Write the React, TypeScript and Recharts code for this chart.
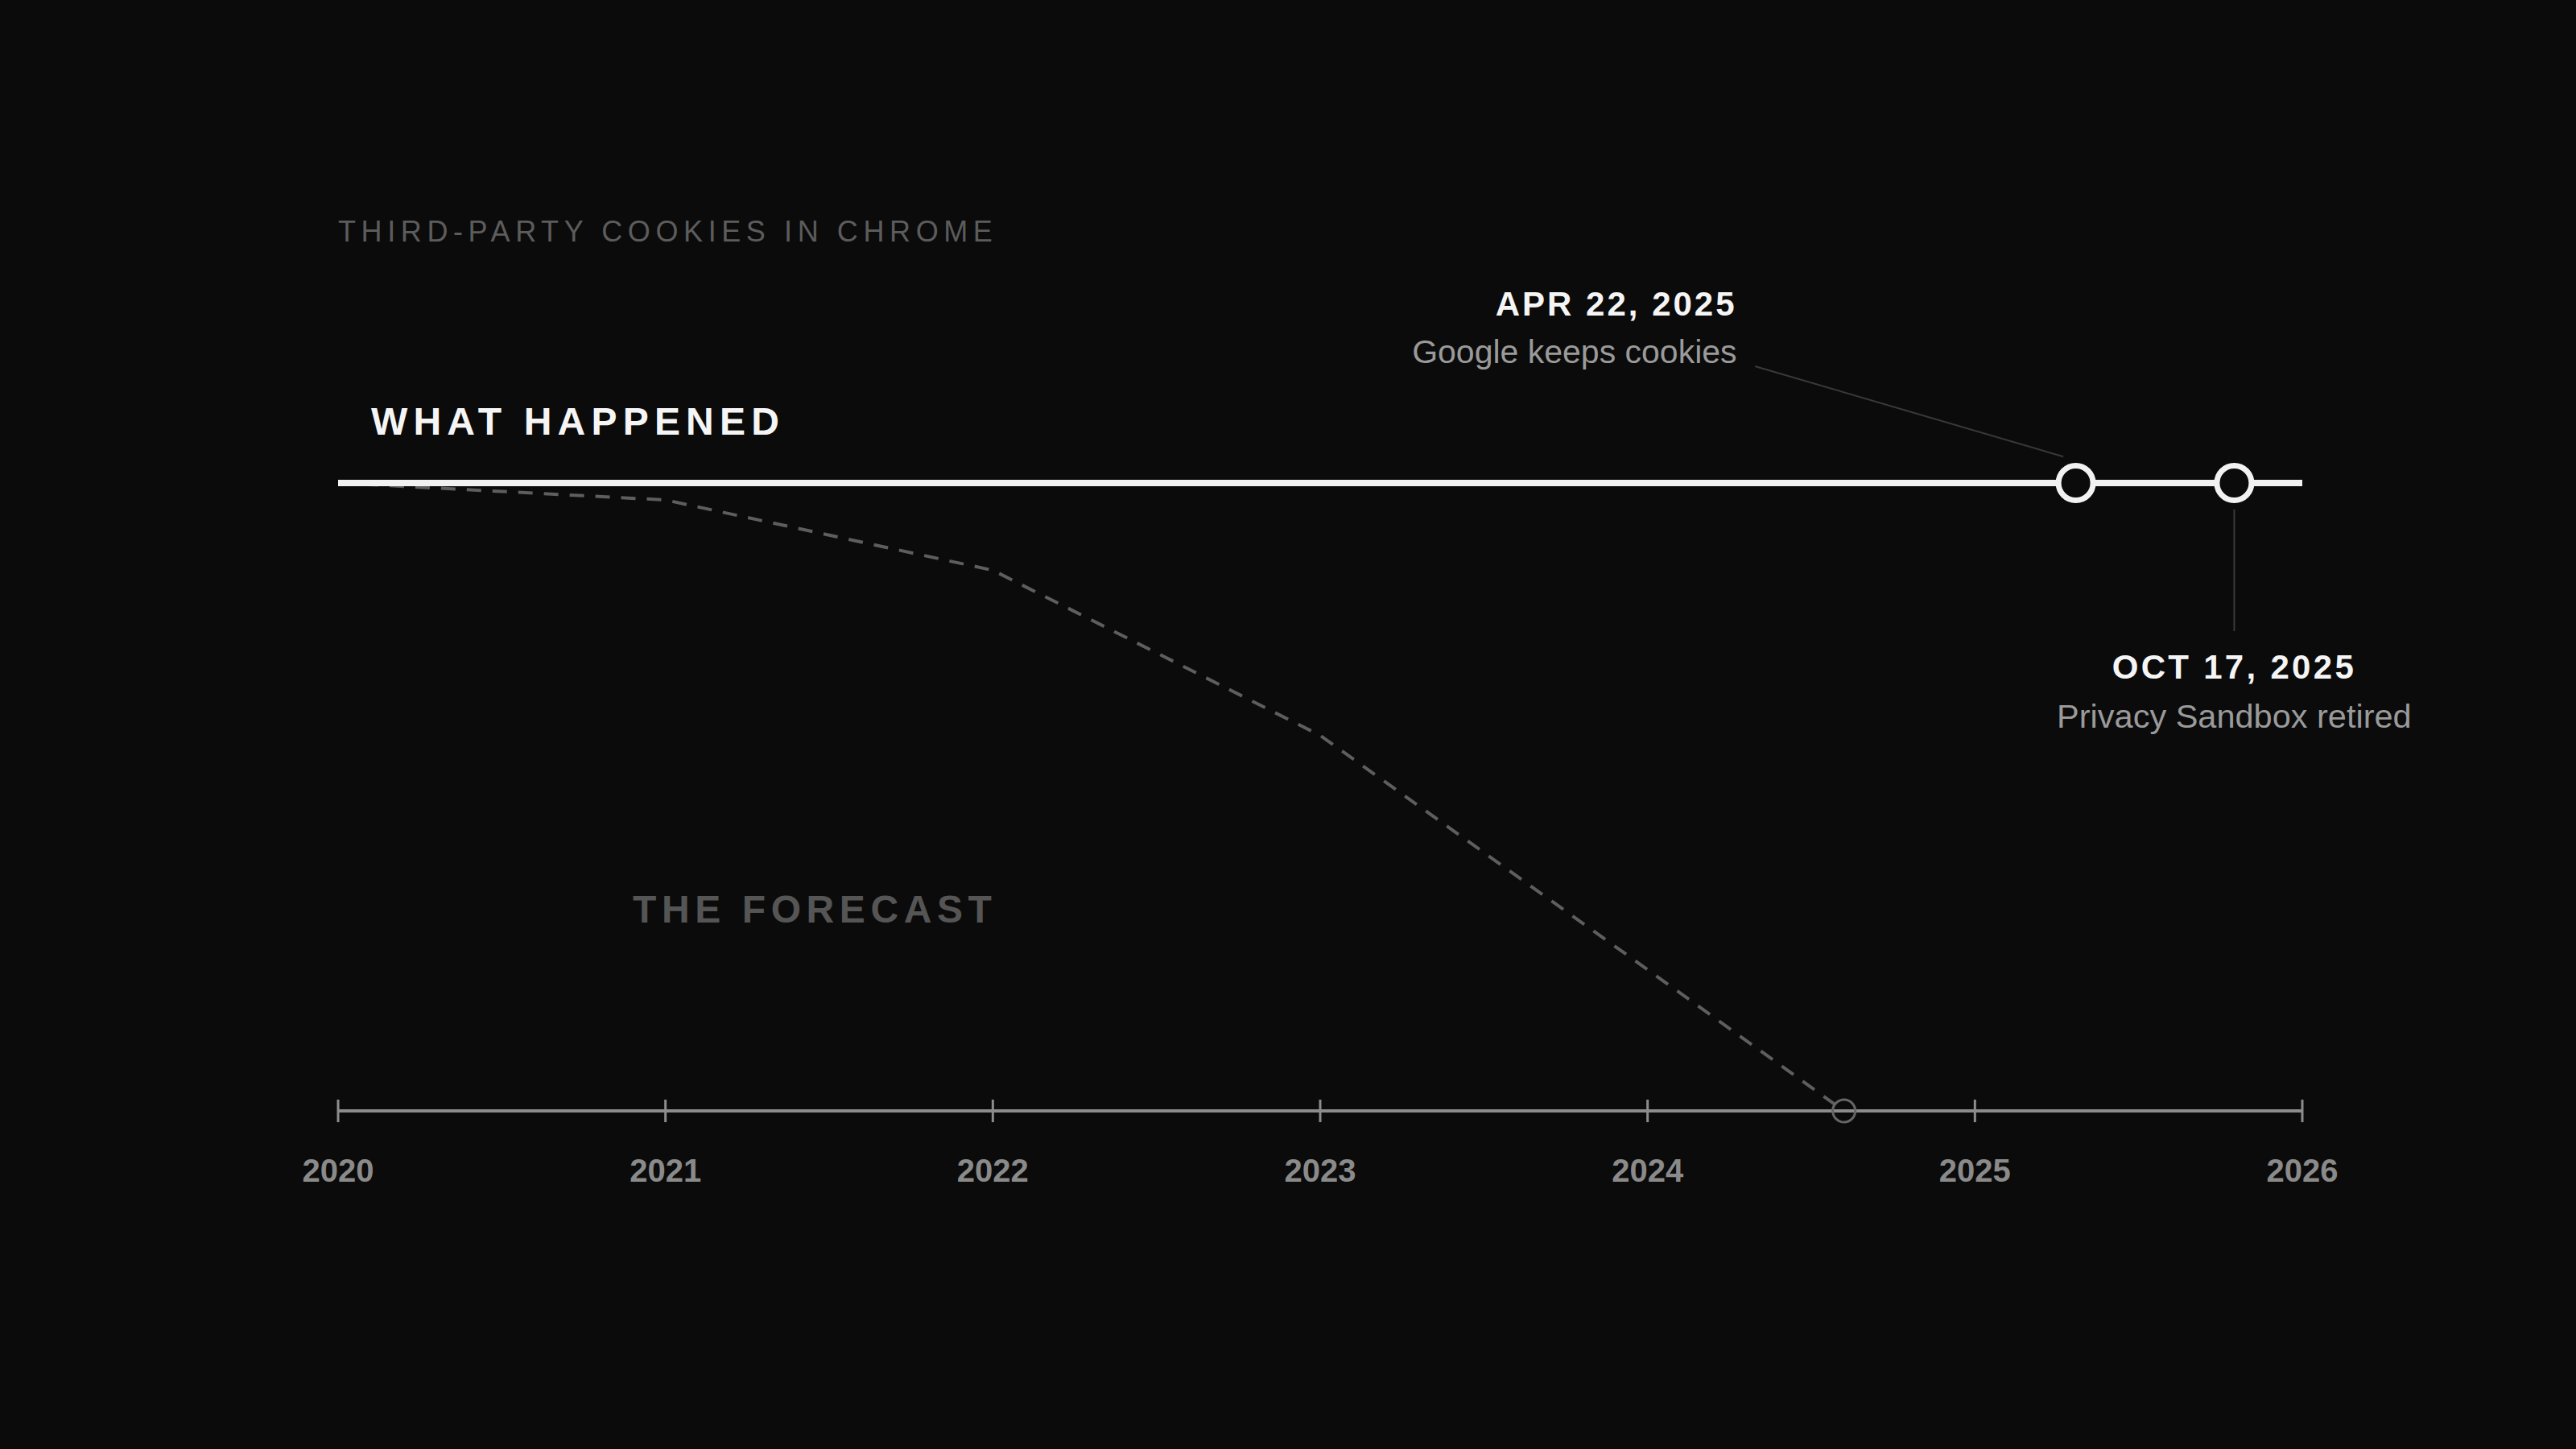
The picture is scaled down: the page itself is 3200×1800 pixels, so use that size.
import React from 'react';
import { ComposedChart, Line, Scatter, XAxis, YAxis, ReferenceLine, ReferenceDot } from 'recharts';

// share of Chrome users still on third-party cookies (100 = all of them)
const years = [2020, 2021, 2022, 2023, 2024, 2025, 2026];

const actual = [
  { year: 2020, share: 100 },
  { year: 2026, share: 100 },
];

const forecast = [
  { year: 2020, share: 100 },
  { year: 2021, share: 97.3 },
  { year: 2022, share: 86.1 },
  { year: 2023, share: 59.8 },
  { year: 2024, share: 22.5 },
  { year: 2024.6, share: 0 },
];

const forecastEnd = [{ year: 2024.6, share: 0 }];

const events = [
  { year: 2025.308, share: 100, date: 'APR 22, 2025', note: 'Google keeps cookies' },
  { year: 2025.792, share: 100, date: 'OCT 17, 2025', note: 'Privacy Sandbox retired' },
];

const BG = '#0b0b0b';
const FONT = '"Liberation Sans", Arial, sans-serif';

const YearTick = (props: any) => {
  const { x, y, payload } = props;
  return (
    <g>
      <line x1={x} x2={x} y1={y - 14} y2={y + 14} stroke="#8c8c8c" strokeWidth={3} />
      <text x={x} y={y + 88} textAnchor="middle" fill="#8a8a8a" fontFamily={FONT} fontSize={40} fontWeight={700}>
        {payload.value}
      </text>
    </g>
  );
};

const EventDot = (props: any) => {
  const { cx, cy } = props;
  return <circle cx={cx} cy={cy} r={21.5} fill={BG} stroke="#f2f2f2" strokeWidth={7} />;
};

const EndDot = (props: any) => {
  const { cx, cy } = props;
  return <circle cx={cx} cy={cy} r={14} fill="none" stroke="#666666" strokeWidth={3} />;
};

// labels hung off the event dots
const aprLabel = (props: any) => {
  const { x, y } = props.viewBox;
  return (
    <g fontFamily={FONT}>
      <text x={x - 421} y={y - 208} textAnchor="end" fill="#f5f5f5" fontSize={42} fontWeight={700} letterSpacing={3}>
        {events[0].date}
      </text>
      <text x={x - 421} y={y - 149} textAnchor="end" fill="#9a9a9a" fontSize={41}>
        {events[0].note}
      </text>
    </g>
  );
};

const octLabel = (props: any) => {
  const { x, y } = props.viewBox;
  return (
    <g fontFamily={FONT}>
      <text x={x} y={y + 243} textAnchor="middle" fill="#f5f5f5" fontSize={42} fontWeight={700} letterSpacing={3.3}>
        {events[1].date}
      </text>
      <text x={x} y={y + 304} textAnchor="middle" fill="#9a9a9a" fontSize={41.5}>
        {events[1].note}
      </text>
    </g>
  );
};

export default function App() {
  return (
    <div style={{ position: 'absolute', left: 0, top: 0, width: 3200, height: 1800, background: BG }}>
      <ComposedChart width={3200} height={1800} margin={{ top: 600, right: 340, bottom: 320, left: 420 }}>
        <text x={420} y={300} fill="#5c5c5c" fontFamily={FONT} fontSize={36} letterSpacing={6.6}>
          THIRD-PARTY COOKIES IN CHROME
        </text>
        <text x={461} y={540} fill="#f5f5f5" fontFamily={FONT} fontSize={48} fontWeight={700} letterSpacing={7.2}>
          WHAT HAPPENED
        </text>
        <text x={786} y={1146} fill="#555555" fontFamily={FONT} fontSize={48} fontWeight={700} letterSpacing={6.6}>
          THE FORECAST
        </text>
        <XAxis
          type="number"
          dataKey="year"
          domain={[2020, 2026]}
          ticks={years}
          height={100}
          tickSize={0}
          tickMargin={0}
          tickLine={false}
          axisLine={{ stroke: '#8c8c8c', strokeWidth: 4 }}
          tick={<YearTick />}
          interval={0}
        />
        <YAxis type="number" dataKey="share" domain={[0, 100]} hide />
        <ReferenceLine
          segment={[{ x: 2024.328, y: 118.6 }, { x: 2025.27, y: 104.2 }]}
          stroke="#3a3a3a"
          strokeWidth={2}
          ifOverflow="visible"
        />
        <ReferenceLine
          segment={[{ x: 2025.792, y: 95.8 }, { x: 2025.792, y: 76.4 }]}
          stroke="#3a3a3a"
          strokeWidth={2}
          ifOverflow="visible"
        />
        <Line
          data={forecast}
          dataKey="share"
          type="linear"
          stroke="#5e5e5e"
          strokeWidth={4}
          strokeDasharray="18 14"
          dot={false}
          activeDot={false}
          isAnimationActive={false}
        />
        <Line
          data={actual}
          dataKey="share"
          type="linear"
          stroke="#f2f2f2"
          strokeWidth={8}
          dot={false}
          activeDot={false}
          isAnimationActive={false}
        />
        <Scatter data={forecastEnd} dataKey="share" shape={<EndDot />} isAnimationActive={false} />
        <Scatter data={events} dataKey="share" shape={<EventDot />} isAnimationActive={false} />
        <ReferenceDot x={events[0].year} y={events[0].share} r={0} ifOverflow="visible" label={aprLabel} />
        <ReferenceDot x={events[1].year} y={events[1].share} r={0} ifOverflow="visible" label={octLabel} />
      </ComposedChart>
    </div>
  );
}
